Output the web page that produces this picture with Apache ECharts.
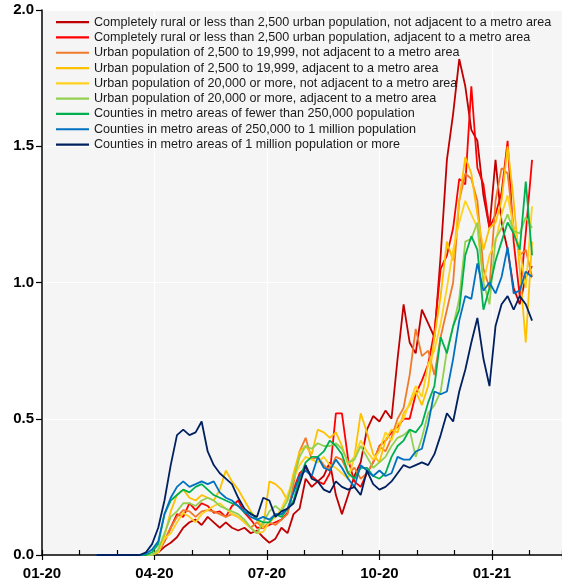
<!DOCTYPE html>
<html><head><meta charset="utf-8">
<script src="https://cdn.jsdelivr.net/npm/echarts@6/dist/echarts.min.js"></script>
<style>html,body{margin:0;padding:0;background:#fff}#c{width:562px;height:587px}</style>
</head><body><div id="c"></div>
<script>
// sampling grid: every 5 days from 2020-02-14
const startDate = '2020-02-14';
const stepDays = 5;
const pointCount = 72;

const seriesNames = [
  'Completely rural or less than 2,500 urban population, not adjacent to a metro area',
  'Completely rural or less than 2,500 urban population, adjacent to a metro area',
  'Urban population of 2,500 to 19,999, not adjacent to a metro area',
  'Urban population of 2,500 to 19,999, adjacent to a metro area',
  'Urban population of 20,000 or more, not adjacent to a metro area',
  'Urban population of 20,000 or more, adjacent to a metro area',
  'Counties in metro areas of fewer than 250,000 population',
  'Counties in metro areas of 250,000 to 1 million population',
  'Counties in metro areas of 1 million population or more'
];
const seriesColors = ['#C00000','#FF0000','#F07A2A','#FFC000','#FFD21F','#92D050','#00B050','#0070C0','#002060'];

const ruralNotAdj = [0,0,0,0,0,0,0,0,0,0,0.01,0.03,0.045,0.065,0.1,0.12,0.13,0.11,0.14,0.12,0.1,0.12,0.1,0.09,0.1,0.08,0.09,0.065,0.045,0.06,0.1,0.08,0.15,0.17,0.28,0.25,0.27,0.29,0.34,0.22,0.15,0.22,0.29,0.34,0.46,0.51,0.49,0.53,0.5,0.72,0.92,0.78,0.74,0.9,0.85,0.8,1.1,1.45,1.62,1.82,1.72,1.56,1.52,1.32,1.2,1.45,1.22,1.12,0.98,0.92,1.02,1.06];
const ruralAdj = [0,0,0,0,0,0,0,0,0,0,0.01,0.05,0.1,0.15,0.14,0.19,0.165,0.19,0.18,0.155,0.16,0.14,0.18,0.2,0.155,0.13,0.1,0.1,0.11,0.12,0.13,0.155,0.24,0.3,0.32,0.29,0.27,0.26,0.3,0.52,0.52,0.35,0.27,0.25,0.3,0.34,0.4,0.42,0.45,0.47,0.5,0.5,0.59,0.64,0.7,0.82,1.05,1.1,1.2,1.38,1.36,1.72,1.42,1.36,1.2,1.25,1.33,1.52,1.15,0.95,1.18,1.45];
const urbSmallNotAdj = [0,0,0,0,0,0,0,0,0,0,0.01,0.05,0.1,0.14,0.165,0.16,0.14,0.16,0.165,0.16,0.15,0.14,0.15,0.14,0.12,0.1,0.12,0.1,0.12,0.11,0.13,0.15,0.26,0.38,0.43,0.35,0.36,0.33,0.31,0.36,0.35,0.3,0.32,0.28,0.3,0.34,0.4,0.38,0.43,0.5,0.54,0.66,0.83,0.73,0.75,0.66,0.8,0.9,1.0,1.3,1.4,1.38,1.3,1.05,0.98,1.3,1.42,1.4,1.2,1.1,1.12,1.02];
const urbSmallAdj = [0,0,0,0,0,0,0,0,0,0,0.02,0.07,0.16,0.22,0.24,0.21,0.2,0.22,0.21,0.2,0.24,0.31,0.27,0.24,0.2,0.16,0.13,0.1,0.27,0.26,0.24,0.2,0.3,0.38,0.4,0.37,0.46,0.45,0.43,0.45,0.4,0.33,0.36,0.52,0.45,0.37,0.34,0.42,0.46,0.45,0.52,0.55,0.6,0.55,0.62,0.8,0.95,1.15,1.08,1.3,1.46,1.4,1.25,1.12,1.2,1.22,1.3,1.5,1.3,1.05,0.78,1.15];
const urbLargeNotAdj = [0,0,0,0,0,0,0,0,0,0,0.01,0.06,0.08,0.12,0.155,0.14,0.12,0.15,0.165,0.18,0.19,0.17,0.15,0.14,0.12,0.1,0.08,0.085,0.12,0.14,0.17,0.22,0.28,0.33,0.36,0.35,0.34,0.36,0.33,0.32,0.3,0.28,0.36,0.42,0.38,0.35,0.38,0.45,0.42,0.48,0.5,0.56,0.62,0.58,0.7,0.75,0.85,0.98,1.12,1.22,1.3,1.25,1.2,1.0,1.1,1.15,1.25,1.32,1.2,1.12,0.98,1.28];
const urbLargeAdj = [0,0,0,0,0,0,0,0,0,0,0.02,0.08,0.14,0.16,0.19,0.19,0.18,0.2,0.21,0.2,0.18,0.17,0.16,0.15,0.13,0.1,0.08,0.12,0.16,0.18,0.16,0.2,0.28,0.36,0.4,0.39,0.41,0.4,0.4,0.41,0.39,0.34,0.35,0.4,0.36,0.32,0.34,0.36,0.4,0.43,0.44,0.46,0.36,0.43,0.52,0.55,0.6,0.75,0.84,0.94,1.15,1.16,1.22,1.0,0.92,1.16,1.2,1.25,1.19,1.18,1.24,1.2];
const metroSmall = [0,0,0,0,0,0,0,0,0,0.01,0.04,0.15,0.2,0.22,0.24,0.23,0.25,0.26,0.24,0.22,0.21,0.2,0.19,0.18,0.155,0.155,0.13,0.12,0.12,0.15,0.14,0.17,0.2,0.28,0.34,0.36,0.36,0.38,0.42,0.4,0.37,0.3,0.28,0.32,0.32,0.29,0.28,0.3,0.36,0.4,0.42,0.46,0.45,0.48,0.56,0.62,0.8,0.74,0.84,0.9,1.1,1.17,1.12,0.9,0.98,1.08,1.15,1.22,1.18,1.12,1.37,1.1];
const metroMid = [0,0,0,0,0,0,0,0,0.005,0.02,0.05,0.15,0.21,0.25,0.27,0.25,0.26,0.27,0.26,0.27,0.23,0.21,0.2,0.18,0.16,0.14,0.13,0.14,0.13,0.15,0.15,0.17,0.23,0.29,0.31,0.29,0.36,0.32,0.31,0.35,0.32,0.28,0.25,0.33,0.31,0.29,0.31,0.29,0.3,0.36,0.35,0.35,0.38,0.39,0.48,0.6,0.59,0.6,0.72,0.86,0.95,0.94,1.07,0.97,1.0,0.96,1.02,1.13,0.96,0.97,1.04,1.02];
const metroLarge = [0,0,0,0,0,0,0,0,0.01,0.04,0.1,0.2,0.33,0.44,0.46,0.44,0.45,0.49,0.38,0.33,0.3,0.28,0.26,0.21,0.17,0.15,0.14,0.21,0.2,0.14,0.16,0.17,0.19,0.26,0.33,0.28,0.27,0.24,0.23,0.27,0.25,0.24,0.25,0.22,0.31,0.26,0.24,0.25,0.27,0.3,0.33,0.32,0.33,0.34,0.33,0.37,0.44,0.52,0.49,0.6,0.68,0.78,0.87,0.72,0.62,0.84,0.92,0.95,0.9,0.95,0.92,0.86];

const seriesValues = [ruralNotAdj, ruralAdj, urbSmallNotAdj, urbSmallAdj, urbLargeNotAdj, urbLargeAdj, metroSmall, metroMid, metroLarge];

const yTicks = [0, 0.5, 1.0, 1.5, 2.0];

// dates -> fractional month index from Jan 2020
function monthIndex(dt) {
  const y = dt.getUTCFullYear(), m = dt.getUTCMonth(), d = dt.getUTCDate();
  const dim = new Date(Date.UTC(y, m + 1, 0)).getUTCDate();
  return (y - 2020) * 12 + m + (d - 1) / dim;
}
const t0 = Date.parse(startDate + 'T00:00:00Z');
const xs = [];
for (let i = 0; i < pointCount; i++) xs.push(monthIndex(new Date(t0 + i * stepDays * 86400000)));

const chart = echarts.init(document.getElementById('c'), null, {renderer: 'canvas'});
const axisFont = {fontFamily: 'Liberation Sans, Arial, sans-serif', fontWeight: 'bold', fontSize: 15, color: '#000'};
const xMax = 13.87;
const isQuarter = v => Math.abs(v - Math.round(v)) < 1e-6 && Math.round(v) % 3 === 0;
chart.setOption({
  animation: false,
  backgroundColor: '#fff',
  grid: {left: 42, right: 0, top: 10, bottom: 32, show: true, backgroundColor: '#f5f5f5', borderWidth: 0, outerBoundsMode: 'none', containLabel: false},
  legend: {
    orient: 'vertical', left: 56, top: 14.5, padding: 0, itemWidth: 33, itemHeight: 2.2, itemGap: 0,
    icon: 'rect',
    textStyle: {fontFamily: 'Liberation Sans, Arial', fontSize: 12.6, color: '#1a1a1a', lineHeight: 15.3},
    data: seriesNames
  },
  xAxis: [{
    type: 'value', min: 0, max: xMax, interval: 3,
    axisLine: {show: true, lineStyle: {color: '#000', width: 1.5}},
    axisTick: {show: true, inside: true, length: 5, lineStyle: {color: '#000', width: 1.2}},
    minorTick: {show: true, splitNumber: 3, length: 5, lineStyle: {color: '#000', width: 1.2}},
    splitLine: {show: true, lineStyle: {color: '#fff', width: 1.2}},
    axisLabel: Object.assign({margin: 11, showMaxLabel: false, formatter: v => {
      if (!isQuarter(v)) return '';
      const m = Math.round(v); const mon = m % 12; const yy = 20 + Math.floor(m / 12);
      return String(mon + 1).padStart(2, '0') + '-' + yy;
    }}, axisFont)
  }, {
    type: 'value', min: 0, max: xMax, interval: 3, position: 'bottom',
    axisLine: {show: false}, axisLabel: {show: false}, splitLine: {show: false},
    axisTick: {show: true, inside: false, length: 5, lineStyle: {color: '#000', width: 1.2}}
  }],
  yAxis: {
    type: 'value', min: yTicks[0], max: yTicks[yTicks.length - 1], interval: 0.5,
    axisLine: {show: true, lineStyle: {color: '#000', width: 1.5}},
    axisTick: {show: true, inside: false, length: 6, lineStyle: {color: '#000', width: 1.2}},
    splitLine: {show: true, lineStyle: {color: '#fff', width: 1.2}},
    axisLabel: Object.assign({margin: 8, formatter: v => v.toFixed(1)}, axisFont)
  },
  series: seriesNames.map((name, i) => ({
    name, type: 'line', symbol: 'none', showSymbol: false,
    color: seriesColors[i],
    lineStyle: {width: 1.8, color: seriesColors[i]},
    data: seriesValues[i].map((v, k) => [xs[k], v])
  }))
});
</script></body></html>
